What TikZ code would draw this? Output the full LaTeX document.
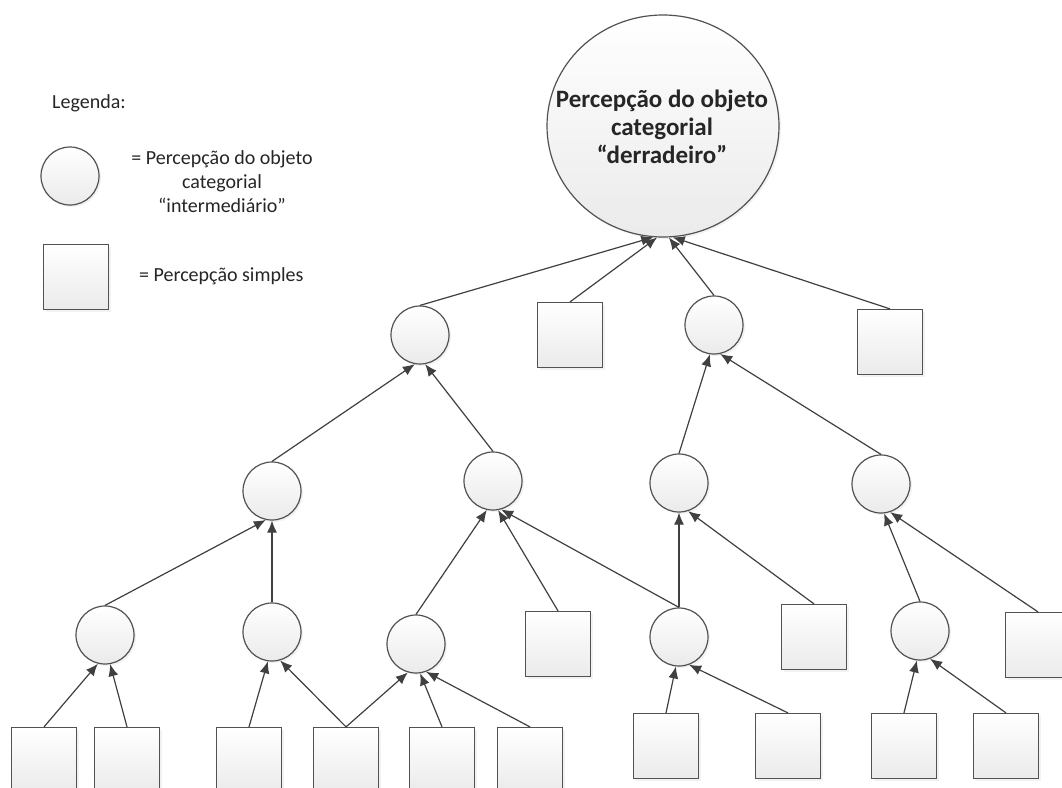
\documentclass[tikz,border=0pt]{standalone}
\usepackage{fontspec}
\setmainfont{Carlito}
\usetikzlibrary{arrows.meta,shapes.geometric,shadows}
\begin{document}
\begin{tikzpicture}[x=1pt,y=-1pt,
  base/.style={draw=black!68, line width=1.2pt, top color=white, bottom color=black!8,
    drop shadow={opacity=0.10,shadow xshift=2pt,shadow yshift=-2pt}},
  circ/.style={base, circle, minimum size=58pt, inner sep=0pt},
  sq/.style={base, rectangle, minimum size=65pt, inner sep=0pt},
  conn/.style={draw=black!75, line width=1.2pt, -{Latex[length=12pt,width=10pt]}},
  txt/.style={font=\fontsize{20}{24}\selectfont, align=center, inner sep=0pt, text=black!85}
]
\useasboundingbox (0,0) rectangle (1062,787);
\fill[white] (0,0) rectangle (1062,787);

% legend
\node[txt] (legtitle) at (89,103) {Legenda:};
\node[circ] (legc) at (70,176) {};
\node[txt] (legctext) at (222,182) {= Percepção do objeto\\categorial\\“intermediário”};
\node[sq] (legs) at (76,277) {};
\node[txt, anchor=west] (legstext) at (139,276) {= Percepção simples};

% top
\node[base, ellipse, minimum width=232pt, minimum height=222pt, inner sep=0pt] (T) at (663,126) {};
\node[font=\fontsize{25}{28}\selectfont\bfseries, align=center, inner sep=0pt, text=black!85] (Ttext) at (662,127) {Percepção do objeto\\categorial\\“derradeiro”};

% level 1
\node[circ] (L1a) at (420,335) {};
\node[sq]   (S1)  at (570,335) {};
\node[circ] (L1b) at (714,325) {};
\node[sq]   (S2)  at (890,342) {};

% level 2
\node[circ] (L2a) at (272,491) {};
\node[circ] (L2b) at (493,481) {};
\node[circ] (L2c) at (679,483) {};
\node[circ] (L2d) at (881,484) {};

% level 3
\node[circ] (C3a) at (105,635) {};
\node[circ] (C3b) at (272,632) {};
\node[circ] (C3c) at (416,644) {};
\node[sq]   (S3)  at (558,644) {};
\node[circ] (C3d) at (679,637) {};
\node[sq]   (S4)  at (814,637) {};
\node[circ] (C3e) at (920,631) {};
\node[sq]   (S5)  at (1038,645) {};

% level 4
\node[sq] (B1)  at (44,760) {};
\node[sq] (B2)  at (127,760) {};
\node[sq] (B3)  at (249,760) {};
\node[sq] (B4)  at (346,760) {};
\node[sq] (B5)  at (442,760) {};
\node[sq] (B6)  at (530,760) {};
\node[sq] (B7)  at (666,746) {};
\node[sq] (B8)  at (788,746) {};
\node[sq] (B9)  at (904,746) {};
\node[sq] (B10) at (1006,746) {};

% connectors to top
\draw[conn] (L1a.north) -- (T.-95);
\draw[conn] (S1.north)  -- (T.-93);
\draw[conn] (L1b.north) -- (T.-87);
\draw[conn] (S2.north)  -- (T.-85);

% to level 1
\draw[conn] (L2a.north) -- (L1a.-100);
\draw[conn] (L2b.north) -- (L1a.-80);
\draw[conn] (L2c.north) -- (L1b.-98);
\draw[conn] (L2d.north) -- (L1b.-78);

% to level 2
\draw[conn] (C3a.north) -- (L2a.-102);
\draw[conn] (C3b.north) -- (L2a.south);
\draw[conn] (C3c.north) -- (L2b.-102);
\draw[conn] (S3.north)  -- (L2b.-80);
\draw[conn] (C3d.north) -- (L2b.-74);
\draw[conn] (C3d.north) -- (L2c.south);
\draw[conn] (S4.north)  -- (L2c.-72);
\draw[conn] (C3e.north) -- (L2d.-84);
\draw[conn] (S5.north)  -- (L2d.-72);

% to level 3
\draw[conn] (B1.north)  -- (C3a.-104);
\draw[conn] (B2.north)  -- (C3a.-80);
\draw[conn] (B3.north)  -- (C3b.-98);
\draw[conn] (B4.north)  -- (C3b.-74);
\draw[conn] (B4.north)  -- (C3c.-106);
\draw[conn] (B5.north)  -- (C3c.-82);
\draw[conn] (B6.north)  -- (C3c.-70);
\draw[conn] (B7.north)  -- (C3d.-96);
\draw[conn] (B8.north)  -- (C3d.-70);
\draw[conn] (B9.north)  -- (C3e.-96);
\draw[conn] (B10.north) -- (C3e.-70);
\end{tikzpicture}
\end{document}
